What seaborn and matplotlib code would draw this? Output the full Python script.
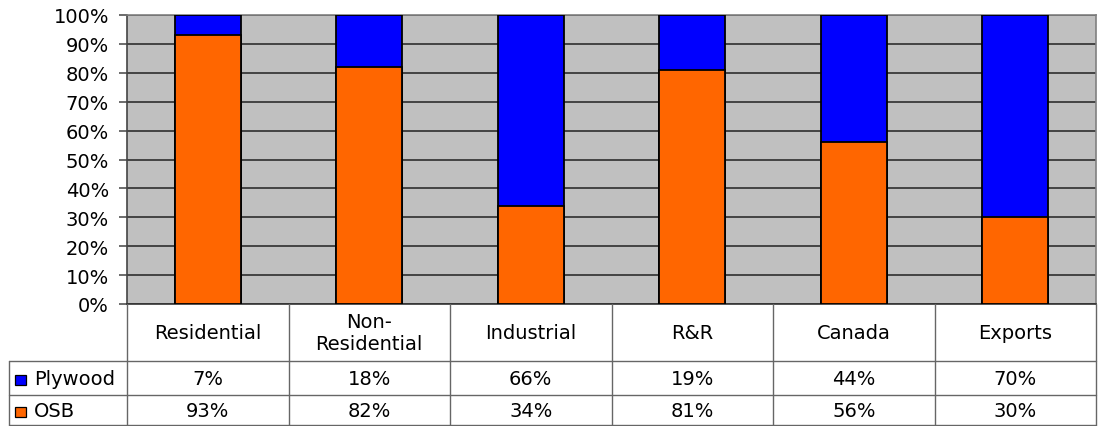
import matplotlib
matplotlib.use("Agg")
import matplotlib.pyplot as plt
import seaborn as sns
import pandas as pd
from matplotlib.lines import Line2D
from matplotlib.patches import Rectangle
from matplotlib.ticker import MultipleLocator, FuncFormatter

# Share of structural panel use by end market
categories = ["Residential", "Non-\nResidential", "Industrial", "R&R", "Canada", "Exports"]
plywood = [7, 18, 66, 19, 44, 70]
osb = [93, 82, 34, 81, 56, 30]
series = ["Plywood", "OSB"]
colors = {"Plywood": "#0000FF", "OSB": "#FF6600"}

sns.set_theme(style="white")
plt.rcParams["font.family"] = ["DejaVu Sans"]
plt.rcParams["text.color"] = "black"
FS = 14

W, H = 1101, 427
fig = plt.figure(figsize=(W / 100, H / 100), dpi=100)

# plot area in pixel terms
L, R, T, B = 127, 1096, 16, 305
ax = fig.add_axes([L / W, (H - B) / H, (R - L) / W, (B - T) / H])
ax.set_facecolor("#C0C0C0")

df = pd.DataFrame({"category": categories, "Plywood": plywood, "OSB": osb})
df["total"] = df["Plywood"] + df["OSB"]

# stacked 100% bars: full column in blue, OSB share drawn over it
sns.barplot(data=df, x="category", y="total", color=colors["Plywood"], saturation=1,
            width=0.41, edgecolor="black", linewidth=1.3, ax=ax, zorder=3)
sns.barplot(data=df, x="category", y="OSB", color=colors["OSB"], saturation=1,
            width=0.41, edgecolor="black", linewidth=1.3, ax=ax, zorder=4)

ax.set_ylim(0, 100)
ax.set_xlim(-0.5, len(categories) - 0.5)
ax.yaxis.set_major_locator(MultipleLocator(10))
ax.yaxis.set_major_formatter(FuncFormatter(lambda v, p: f"{v:.0f}%"))
ax.yaxis.grid(True, color="#222222", linewidth=1.1)
ax.set_axisbelow(True)
ax.set_xlabel("")
ax.set_ylabel("")
ax.tick_params(axis="x", length=0, labelbottom=False)
ax.tick_params(axis="y", left=True, length=6, width=1.1, color="#444444",
               pad=7, labelsize=FS, labelcolor="black")
for side, sp in ax.spines.items():
    sp.set_visible(True)
    sp.set_linewidth(1.2)
    sp.set_color("#808080")
ax.spines["left"].set_color("#444444")
ax.spines["bottom"].set_color("#333333")

# data table below the plot, in figure pixel coordinates
def fx(x):
    return x / W

def fy(y):
    return 1 - y / H

line_kw = dict(transform=fig.transFigure, color="#666666", linewidth=1.0)
col_w = (R - L) / len(categories)
row_header = (B, 362)
row_ply = (362, 396)
row_osb = (396, 426)
tab_left = 9

for k in range(len(categories) + 1):
    x = L + col_w * k
    fig.add_artist(Line2D([fx(x), fx(x)], [fy(B), fy(row_osb[1])], **line_kw))
for y in (row_header[1], row_ply[1], row_osb[1]):
    fig.add_artist(Line2D([fx(tab_left), fx(R)], [fy(y), fy(y)], **line_kw))
fig.add_artist(Line2D([fx(tab_left), fx(tab_left)], [fy(row_header[1]), fy(row_osb[1])], **line_kw))

for k, cat in enumerate(categories):
    cx = L + col_w * (k + 0.5)
    fig.text(fx(cx), fy(sum(row_header) / 2), cat, ha="center", va="center",
             fontsize=FS, linespacing=1.2)
    fig.text(fx(cx), fy(sum(row_ply) / 2 + 1), f"{plywood[k]}%", ha="center", va="center", fontsize=FS)
    fig.text(fx(cx), fy(sum(row_osb) / 2 + 1), f"{osb[k]}%", ha="center", va="center", fontsize=FS)

for name, (y0, y1) in zip(series, (row_ply, row_osb)):
    cy = (y0 + y1) / 2
    fig.add_artist(Rectangle((fx(15), fy(cy + 7)), 11 / W, 10 / H, transform=fig.transFigure,
                             facecolor=colors[name], edgecolor="black", linewidth=0.9))
    fig.text(fx(34), fy(cy + 1), name, ha="left", va="center", fontsize=FS)

fig.savefig("out.png", dpi=100, facecolor="white")
